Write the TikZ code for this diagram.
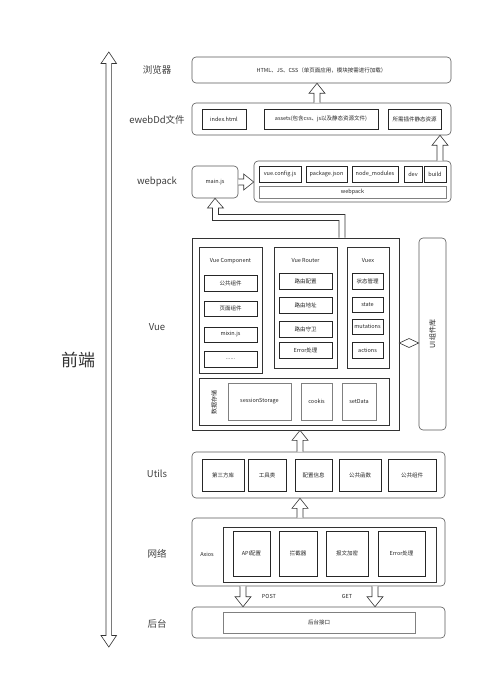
\documentclass[tikz,border=0pt]{standalone}
\usepackage{fontspec}
\setmainfont{Noto Sans CJK SC}
\usetikzlibrary{calc,arrows.meta}
\tikzset{
  grp/.style={draw=black!65, rounded corners=4pt, line width=0.6pt, fill=white},
  ibox/.style={draw=black!85, line width=0.7pt, fill=white, font=\fontsize{5.5}{6}\selectfont, text=black!85},
  lbox/.style={draw=black!50, line width=0.6pt, fill=white, font=\fontsize{5.5}{6}\selectfont, text=black!85},
  pnl/.style={draw=black!80, line width=0.7pt},
  lbl/.style={font=\fontsize{9.5}{11}\selectfont, text=black!75},
  sm/.style={font=\fontsize{5.5}{6}\selectfont, text=black!85},
  arr/.style={draw=black!80, line width=0.6pt, fill=white},
}
\newcommand\bx[7]{\node[#6, minimum width=#4pt-#2pt, minimum height=#5pt-#3pt, inner sep=0pt] (#1) at ({(#2+#4)/2},{(#3+#5)/2}) {#7};}
\newcommand\barrow[2]{%
  \coordinate (ah) at ($(#2)!10pt!(#1)$);
  \draw[arr] ($(#1)!3pt!90:(#2)$) -- ($(ah)!3pt!90:(#2)$) -- ($(ah)!8pt!90:(#2)$) -- (#2)
    -- ($(ah)!8pt!-90:(#2)$) -- ($(ah)!3pt!-90:(#2)$) -- ($(#1)!3pt!-90:(#2)$);}
\begin{document}
\begin{tikzpicture}[x=1pt,y=-1pt]
\fill[white] (0,0) rectangle (503,700);
\useasboundingbox (0,0) rectangle (503,700);

% left double arrow
\draw[arr] (108.8,52) -- (116.5,63.5) -- (111.6,63.5) -- (111.6,635.5) -- (116.5,635.5) -- (108.8,647)
  -- (101,635.5) -- (106,635.5) -- (106,63.5) -- (101,63.5) -- cycle;
\node[font=\fontsize{17}{19}\selectfont, text=black!80] (fe) at (78,360) {前端};

% row labels
\node[lbl] (l1) at (157,70) {浏览器};
\node[lbl] (l2) at (157,120) {ewebDd文件};
\node[lbl] (l3) at (157,182) {webpack};
\node[lbl] (l4) at (157,327) {Vue};
\node[lbl] (l5) at (157,474) {Utils};
\node[lbl] (l6) at (157,554) {网络};
\node[lbl] (l7) at (157,624) {后台};

% browser
\bx{brw}{192}{57}{451}{83}{grp,sm}{HTML、JS、CSS（单页面应用，模块按需进行加载）}
% ewebDd
\bx{eweb}{192}{103}{451}{135}{grp}{}
\bx{idx}{202}{109}{246}{129}{ibox}{index.html}
\bx{ast}{264}{109}{378}{129}{ibox}{assets(包含css、js以及静态资源文件)}
\bx{plg}{388}{109}{441}{129}{ibox}{所需插件静态资源}
% webpack
\bx{mainjs}{192}{166}{238}{198}{grp,sm}{main.js}
\bx{wpg}{254}{161}{451}{202}{grp}{}
\bx{vcf}{259}{166}{301}{182}{ibox}{vue.config.js}
\bx{pkg}{306}{166}{347}{182}{ibox}{package.json}
\bx{nm}{352}{166}{398}{182}{ibox}{node\_modules}
\bx{dev}{404}{166}{422}{182}{ibox}{dev}
\bx{bld}{424}{166}{446}{182}{ibox}{build}
\bx{wpb}{259}{186}{446}{198}{lbox}{webpack}
% Vue
\bx{vue}{192}{238}{399}{430}{pnl}{}
\bx{ui}{419}{238}{446}{430}{grp}{}
\node[rotate=90, font=\fontsize{7}{8}\selectfont, text=black!85] (uit) at (ui.center) {UI组件库};
\bx{vc}{199}{247}{262}{373}{pnl}{}
\node[sm] (vct) at (230.5,261) {Vue Component};
\bx{vc1}{204}{275}{257}{291}{ibox}{公共组件}
\bx{vc2}{204}{301}{257}{316}{ibox}{页面组件}
\bx{vc3}{204}{327}{257}{342}{ibox}{mixin.js}
\bx{vc4}{204}{351}{257}{367}{ibox}{......}
\bx{vr}{274}{247}{337}{368}{pnl}{}
\node[sm] (vrt) at (305.5,261) {Vue Router};
\bx{vr1}{279}{273}{332}{289}{ibox}{路由配置}
\bx{vr2}{279}{297}{332}{313}{ibox}{路由地址}
\bx{vr3}{279}{321}{332}{337}{ibox}{路由守卫}
\bx{vr4}{279}{342}{332}{358}{ibox}{Error处理}
\bx{vx}{347}{247}{389}{368}{pnl}{}
\node[sm] (vxt) at (368,261) {Vuex};
\bx{vx1}{352}{273}{383}{289}{ibox}{状态管理}
\bx{vx2}{352}{297}{383}{312}{ibox}{state}
\bx{vx3}{352}{319}{383}{334}{ibox}{mutations}
\bx{vx4}{352}{342}{383}{358}{ibox}{actions}
\bx{st}{199}{378}{389}{425}{pnl}{}
\node[rotate=90, font=\fontsize{6}{7}\selectfont, text=black!85] (stt) at (214,402) {数据存储};
\bx{st1}{228}{383}{291}{420}{lbox}{sessionStorage}
\bx{st2}{301}{383}{332}{420}{lbox}{cookis}
\bx{st3}{342}{383}{376}{420}{lbox}{setData}
% Utils
\bx{utl}{192}{452}{445}{498}{grp}{}
\bx{u1}{202}{459}{244}{491}{ibox}{第三方库}
\bx{u2}{248}{459}{286}{491}{ibox}{工具类}
\bx{u3}{295}{459}{332}{491}{ibox}{配置信息}
\bx{u4}{339}{459}{381}{491}{ibox}{公共函数}
\bx{u5}{388}{459}{436}{491}{ibox}{公共组件}
% network
\bx{net}{192}{518}{445}{586}{grp}{}
\node[sm] (axl) at (207,554) {Axios};
\bx{axb}{223}{527}{436}{582}{pnl,line width=1pt}{}
\bx{n1}{233}{531}{270}{576}{ibox}{API配置}
\bx{n2}{279}{531}{317}{576}{ibox}{拦截器}
\bx{n3}{326}{531}{368}{576}{ibox}{报文加密}
\bx{n4}{378}{531}{425}{576}{ibox}{Error处理}
% backend
\bx{bk}{192}{607}{445}{638}{grp}{}
\bx{bk1}{223}{612}{415}{633}{lbox}{后台接口}

% arrows
\coordinate (x317) at (317,0);
\coordinate (x440) at (440,0);
\coordinate (x300) at (300,0);
\coordinate (x243) at (243,0);
\coordinate (x375) at (375,0);
\barrow{x317 |- eweb.north}{x317 |- brw.south}
\barrow{x440 |- wpg.north}{x440 |- eweb.south}
\barrow{mainjs.east}{mainjs.east -| wpg.west}
\barrow{x300 |- utl.north}{x300 |- vue.south}
\barrow{x300 |- net.north}{x300 |- utl.south}
\barrow{x243 |- net.south}{x243 |- bk.north}
\barrow{x375 |- net.south}{x375 |- bk.north}
\node[sm] (post) at (269,596) {POST};
\node[sm] (get) at (347,596) {GET};

% elbow arrow vue -> main.js
\coordinate (ev) at (342,0);
\coordinate (em) at (mainjs.south);
\draw[arr] ($(ev |- vue.north)+(-3,0)$) -- (339,220.5) -- (212.5,220.5) -- (212.5,208) -- (207.5,208)
  -- (em) -- (223.5,208) -- (218.5,208) -- (218.5,214.5) -- (345,214.5) -- ($(ev |- vue.north)+(3,0)$);

% vue <-> ui (two open heads back to back)
\coordinate (vy) at (0,343);
\coordinate (vl) at (vy -| vue.east);
\coordinate (vr) at (vy -| ui.west);
\draw[arr, line join=miter] (vl) -- ($(vl)!0.5!(vr)+(0,-4.5)$) -- (vr) -- ($(vl)!0.5!(vr)+(0,4.5)$) -- cycle;
\end{tikzpicture}
\end{document}
